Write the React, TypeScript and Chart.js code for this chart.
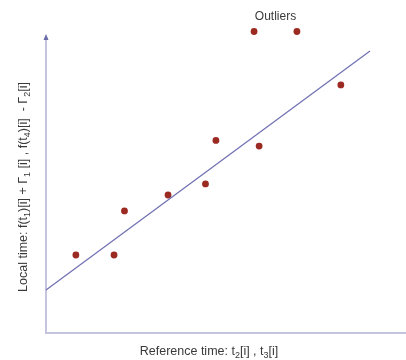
import React, { useEffect, useRef } from "react";
import { Chart, registerables } from "chart.js";

Chart.register(...registerables);

const pointX = [8.3, 18.9, 21.8, 33.9, 44.3, 47.2, 59.2, 81.9];
const pointY = [26.0, 26.0, 40.7, 46.0, 49.7, 64.2, 62.3, 82.7];
const outlierX = [57.8, 69.7];
const outlierY = [100.5, 100.5];
const fitX = [0, 90];
const fitY = [14.3, 94.0];

const xTitle: [string, boolean][] = [
  ["Reference time: t", false], ["2", true], ["[i] , t", false], ["3", true], ["[i]", false],
];
const yTitle: [string, boolean][] = [
  ["Local time: f(t", false], ["1", true], [")[i] + Γ", false], ["1", true],
  [" [i] , f(t", false], ["4", true], [")[i]  - Γ", false], ["2", true], ["[i]", false],
];
const outlierLabel = "Outliers";

const FONT = "Liberation Sans, Arial, sans-serif";
const TEXT = "#3a3a3a";

function drawRich(ctx: CanvasRenderingContext2D, segs: [string, boolean][], size: number) {
  const main = `${size}px ${FONT}`;
  const sub = `${Math.round(size * 0.7)}px ${FONT}`;
  let w = 0;
  for (const [t, s] of segs) { ctx.font = s ? sub : main; w += ctx.measureText(t).width; }
  let x = -w / 2;
  ctx.textBaseline = "alphabetic";
  ctx.textAlign = "left";
  for (const [t, s] of segs) {
    ctx.font = s ? sub : main;
    ctx.fillText(t, x, s ? size * 0.25 : 0);
    x += ctx.measureText(t).width;
  }
}

const axesPlugin = {
  id: "axesDecor",
  beforeDatasetsDraw(chart: any) {
    const { ctx, chartArea } = chart;
    const { left, right, bottom } = chartArea;
    const h = chart.height;
    ctx.save();
    ctx.strokeStyle = "#c4c4de";
    ctx.lineWidth = 2;
    ctx.beginPath();
    ctx.moveTo(left, bottom);
    ctx.lineTo(left, chartArea.top + 5);
    ctx.moveTo(left - 1, bottom);
    ctx.lineTo(right, bottom);
    ctx.stroke();
    // arrow head
    ctx.fillStyle = "#6a6aa8";
    ctx.beginPath();
    ctx.moveTo(left, chartArea.top + 1);
    ctx.lineTo(left - 2.5, chartArea.top + 7);
    ctx.lineTo(left + 2.5, chartArea.top + 7);
    ctx.closePath();
    ctx.fill();

    ctx.fillStyle = TEXT;
    // x title
    ctx.save();
    ctx.translate(209, h - 5);
    drawRich(ctx, xTitle, 12.5);
    ctx.restore();
    // y title
    ctx.save();
    ctx.translate(27, 187);
    ctx.rotate(-Math.PI / 2);
    drawRich(ctx, yTitle, 12.5);
    ctx.restore();
    // outliers label
    const xs = chart.scales.x;
    const ys = chart.scales.y;
    const cx = (xs.getPixelForValue(outlierX[0]) + xs.getPixelForValue(outlierX[1])) / 2;
    ctx.font = `12px ${FONT}`;
    ctx.textAlign = "center";
    ctx.textBaseline = "middle";
    ctx.fillText(outlierLabel, cx, ys.getPixelForValue(outlierY[0]) - 15);
    ctx.restore();
  },
};

export default function App() {
  const ref = useRef<HTMLCanvasElement>(null);
  useEffect(() => {
    if (!ref.current) return;
    const red = "#9a2a22";
    const chart = new Chart(ref.current, {
      type: "scatter",
      data: {
        datasets: [
          {
            type: "line",
            data: fitX.map((x, i) => ({ x, y: fitY[i] })),
            borderColor: "#7272b4",
            borderWidth: 1.3,
            pointRadius: 0,
            fill: false,
            clip: false as any,
          },
          {
            data: pointX.map((x, i) => ({ x, y: pointY[i] })),
            backgroundColor: red,
            borderColor: red,
            pointRadius: 3.4,
            borderWidth: 0,
            clip: false as any,
          },
          {
            data: outlierX.map((x, i) => ({ x, y: outlierY[i] })),
            backgroundColor: red,
            borderColor: red,
            pointRadius: 3.4,
            borderWidth: 0,
            clip: false as any,
          },
        ],
      },
      options: {
        responsive: false,
        animation: false,
        layout: { autoPadding: false, padding: { left: 46, right: 0, top: 33, bottom: 27 } },
        plugins: { legend: { display: false }, tooltip: { enabled: false } },
        scales: {
          x: { type: "linear", min: 0, max: 100, display: false },
          y: { type: "linear", min: 0, max: 100, display: false },
        },
      },
      plugins: [axesPlugin],
    });
    return () => chart.destroy();
  }, []);
  return (
    <div style={{ position: "fixed", left: 0, top: 0, width: 406, height: 360, background: "#fff" }}>
      <canvas ref={ref} width={406} height={360} />
    </div>
  );
}
